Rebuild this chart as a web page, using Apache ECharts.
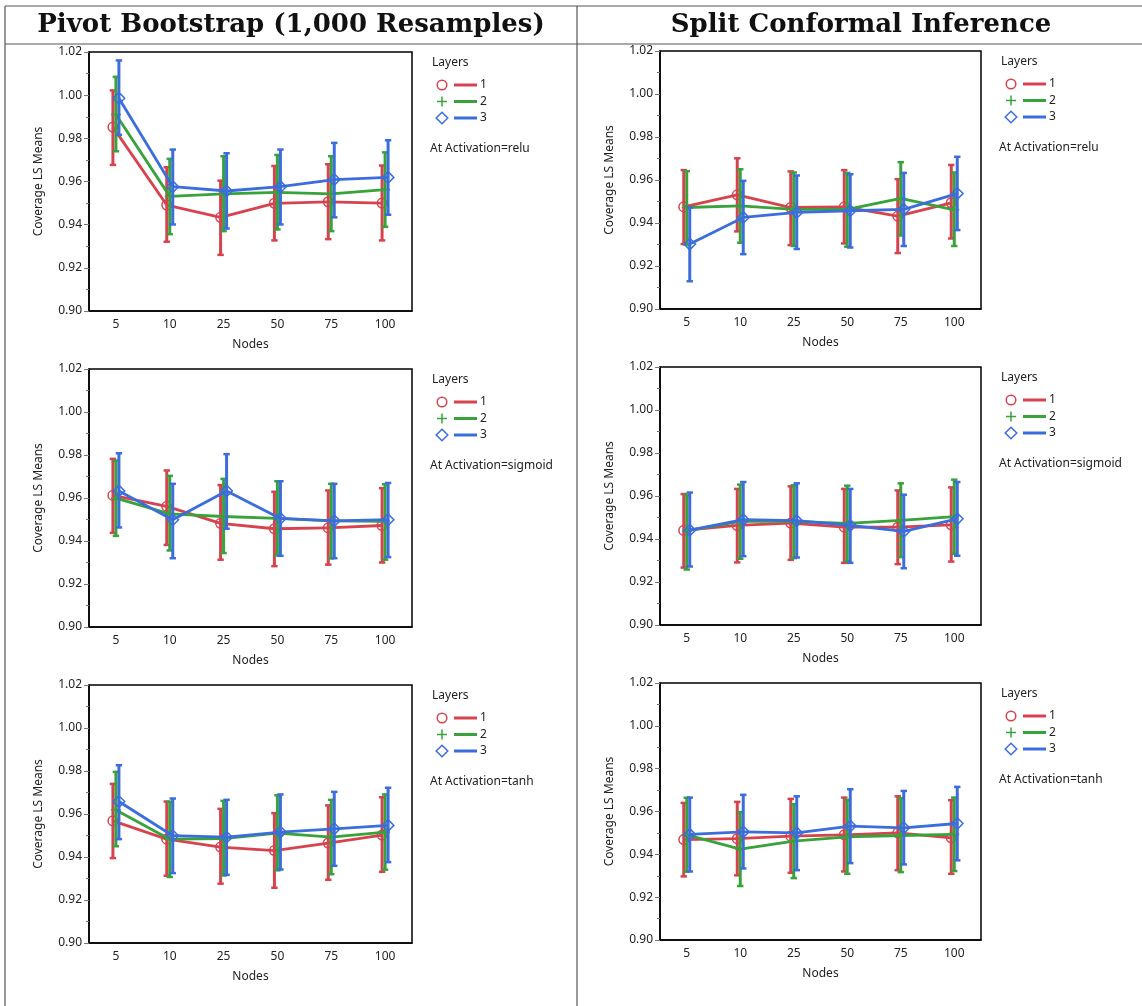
<!DOCTYPE html>
<html>
<head>
<meta charset="utf-8">
<script src="https://cdn.jsdelivr.net/npm/echarts@6/dist/echarts.min.js"></script>
<style>
html,body{margin:0;padding:0;background:#fff;}
#chart{width:1142px;height:1006px;}
</style>
</head>
<body>
<div id="chart"></div>
<script>
// ---------- DATA ----------
const nodes = ['5', '10', '25', '50', '75', '100'];
const layers = ['1', '2', '3'];
const columnTitles = ['Pivot Bootstrap (1,000 Resamples)', 'Split Conformal Inference'];
const activations = ['relu', 'sigmoid', 'tanh'];

// Pivot Bootstrap, relu  (rows = layers 1,2,3)
const pivotReluMean  = [[0.9852,0.9491,0.9434,0.9499,0.9506,0.9500],[0.9910,0.9531,0.9543,0.9550,0.9543,0.9562],[0.9986,0.9576,0.9556,0.9576,0.9609,0.9619]];
const pivotReluLower = [[0.9677,0.9321,0.9260,0.9327,0.9333,0.9327],[0.9740,0.9356,0.9370,0.9378,0.9370,0.9390],[0.9816,0.9401,0.9382,0.9401,0.9434,0.9446]];
const pivotReluUpper = [[1.0022,0.9666,0.9604,0.9672,0.9680,0.9674],[1.0085,0.9705,0.9717,0.9723,0.9717,0.9735],[1.0161,0.9748,0.9731,0.9748,0.9779,0.9791]];
// Pivot Bootstrap, sigmoid
const pivotSigmoidMean  = [[0.9612,0.9561,0.9482,0.9457,0.9461,0.9472],[0.9599,0.9526,0.9514,0.9505,0.9494,0.9491],[0.9633,0.9499,0.9633,0.9505,0.9494,0.9499]];
const pivotSigmoidLower = [[0.9438,0.9382,0.9313,0.9283,0.9290,0.9300],[0.9424,0.9356,0.9344,0.9333,0.9319,0.9313],[0.9463,0.9320,0.9457,0.9331,0.9320,0.9325]];
const pivotSigmoidUpper = [[0.9782,0.9728,0.9660,0.9629,0.9635,0.9646],[0.9774,0.9703,0.9689,0.9678,0.9666,0.9664],[0.9808,0.9666,0.9804,0.9678,0.9666,0.9670]];
// Pivot Bootstrap, tanh
const pivotTanhMean  = [[0.9568,0.9483,0.9446,0.9430,0.9465,0.9502],[0.9619,0.9483,0.9486,0.9511,0.9492,0.9516],[0.9658,0.9499,0.9492,0.9516,0.9531,0.9547]];
const pivotTanhLower = [[0.9395,0.9313,0.9276,0.9257,0.9294,0.9331],[0.9450,0.9307,0.9314,0.9338,0.9320,0.9341],[0.9483,0.9325,0.9317,0.9342,0.9359,0.9376]];
const pivotTanhUpper = [[0.9740,0.9658,0.9624,0.9604,0.9640,0.9678],[0.9796,0.9657,0.9661,0.9687,0.9666,0.9691],[0.9827,0.9672,0.9666,0.9691,0.9703,0.9722]];
// Split Conformal, relu
const splitReluMean  = [[0.9475,0.9531,0.9472,0.9475,0.9432,0.9494],[0.9472,0.9480,0.9463,0.9463,0.9514,0.9461],[0.9302,0.9426,0.9449,0.9457,0.9463,0.9537]];
const splitReluLower = [[0.9302,0.9361,0.9297,0.9305,0.9260,0.9328],[0.9299,0.9308,0.9293,0.9290,0.9342,0.9293],[0.9129,0.9255,0.9279,0.9286,0.9293,0.9367]];
const splitReluUpper = [[0.9646,0.9701,0.9640,0.9646,0.9604,0.9670],[0.9641,0.9650,0.9635,0.9633,0.9683,0.9635],[0.9472,0.9596,0.9621,0.9627,0.9633,0.9708]];
// Split Conformal, sigmoid
const splitSigmoidMean  = [[0.9440,0.9463,0.9474,0.9455,0.9455,0.9466],[0.9438,0.9482,0.9482,0.9473,0.9487,0.9504],[0.9441,0.9490,0.9485,0.9463,0.9435,0.9494]];
const splitSigmoidLower = [[0.9267,0.9291,0.9303,0.9289,0.9283,0.9295],[0.9258,0.9308,0.9311,0.9298,0.9316,0.9331],[0.9272,0.9320,0.9314,0.9289,0.9264,0.9322]];
const splitSigmoidUpper = [[0.9609,0.9633,0.9645,0.9633,0.9626,0.9640],[0.9603,0.9653,0.9650,0.9648,0.9659,0.9676],[0.9616,0.9665,0.9659,0.9633,0.9606,0.9665]];
// Split Conformal, tanh
const splitTanhMean  = [[0.9469,0.9473,0.9485,0.9491,0.9500,0.9477],[0.9491,0.9424,0.9462,0.9482,0.9488,0.9493],[0.9493,0.9505,0.9500,0.9532,0.9524,0.9544]];
const splitTanhLower = [[0.9297,0.9302,0.9314,0.9320,0.9326,0.9309],[0.9319,0.9252,0.9289,0.9309,0.9317,0.9322],[0.9320,0.9334,0.9326,0.9359,0.9353,0.9372]];
const splitTanhUpper = [[0.9640,0.9645,0.9659,0.9665,0.9671,0.9653],[0.9664,0.9597,0.9634,0.9654,0.9662,0.9665],[0.9665,0.9678,0.9671,0.9704,0.9696,0.9715]];

// ---------- STYLE / LAYOUT ----------
const colors = ['#d6434f', '#37a33a', '#3c6ddd'];
const markerTypes = ['circle', 'plus', 'diamond'];
const dodge = [-3, 0, 3];
const FONT = '"Noto Sans", "Open Sans", sans-serif';

const panels = [
  { mean: pivotReluMean, lo: pivotReluLower, hi: pivotReluUpper, act: activations[0], grid: {left: 89, top: 52, width: 323, height: 259} },
  { mean: pivotSigmoidMean, lo: pivotSigmoidLower, hi: pivotSigmoidUpper, act: activations[1], grid: {left: 89, top: 369, width: 323, height: 258} },
  { mean: pivotTanhMean, lo: pivotTanhLower, hi: pivotTanhUpper, act: activations[2], grid: {left: 89, top: 685, width: 323, height: 258} },
  { mean: splitReluMean, lo: splitReluLower, hi: splitReluUpper, act: activations[0], grid: {left: 660, top: 51, width: 321, height: 258} },
  { mean: splitSigmoidMean, lo: splitSigmoidLower, hi: splitSigmoidUpper, act: activations[1], grid: {left: 660, top: 367, width: 321, height: 258} },
  { mean: splitTanhMean, lo: splitTanhLower, hi: splitTanhUpper, act: activations[2], grid: {left: 660, top: 683, width: 321, height: 257} }
];

function markerShape(type, x, y, color) {
  const st = { stroke: color, lineWidth: 1.5, fill: null };
  if (type === 'circle') return { type: 'circle', shape: { cx: x, cy: y, r: 4.8 }, style: st };
  if (type === 'diamond') return { type: 'polygon', shape: { points: [[x, y - 5.8], [x + 5.8, y], [x, y + 5.8], [x - 5.8, y]] }, style: st };
  return { type: 'group', children: [
    { type: 'line', shape: { x1: x - 5, y1: y, x2: x + 5, y2: y }, style: { stroke: color, lineWidth: 1.5 } },
    { type: 'line', shape: { x1: x, y1: y - 5, x2: x, y2: y + 5 }, style: { stroke: color, lineWidth: 1.5 } }
  ]};
}

const grids = [], xAxes = [], yAxes = [], series = [], graphics = [];

panels.forEach((p, k) => {
  grids.push(Object.assign({ show: true, borderColor: '#000', borderWidth: 1.5, backgroundColor: '#fff' }, p.grid));
  xAxes.push({
    type: 'category', gridIndex: k, data: nodes, boundaryGap: true,
    axisLine: { show: true, lineStyle: { color: '#000', width: 1.5 } },
    axisTick: { show: false },
    axisLabel: { margin: 8, fontSize: 12, color: '#222', fontFamily: FONT },
    name: 'Nodes', nameLocation: 'middle', nameGap: 28,
    nameTextStyle: { fontSize: 12, color: '#222', fontFamily: FONT }
  });
  yAxes.push({
    type: 'value', gridIndex: k, min: 0.90, max: 1.02, interval: 0.02,
    axisLine: { show: true, lineStyle: { color: '#000', width: 1.5 } },
    axisTick: { show: true, length: 5, lineStyle: { color: '#777' } },
    minorTick: { show: true, splitNumber: 2, length: 3, lineStyle: { color: '#777' } },
    splitLine: { show: false },
    axisLabel: { margin: 7, fontSize: 12, color: '#222', fontFamily: FONT, formatter: v => v.toFixed(2) },
    name: 'Coverage LS Means', nameLocation: 'middle', nameGap: 44,
    nameTextStyle: { fontSize: 12, color: '#222', fontFamily: FONT }
  });

  layers.forEach((layer, j) => {
    const means = p.mean[j], los = p.lo[j], his = p.hi[j];
    const color = colors[j];
    const data = nodes.map((n, i) => [i, means[i], los[i], his[i]]);
    series.push({
      type: 'custom', name: layer, xAxisIndex: k, yAxisIndex: k,
      data: data, encode: { x: 0, y: [1, 2, 3] }, z: 2 + j,
      renderItem: function (params, api) {
        const i = api.value(0);
        const off = dodge[j];
        const pm = api.coord([i, api.value(1)]);
        const pl = api.coord([i, api.value(2)]);
        const ph = api.coord([i, api.value(3)]);
        const x = pm[0] + off;
        const children = [];
        children.push({ type: 'line', shape: { x1: x, y1: pl[1], x2: x, y2: ph[1] }, style: { stroke: color, lineWidth: 3 } });
        children.push({ type: 'line', shape: { x1: x - 3.2, y1: pl[1], x2: x + 3.2, y2: pl[1] }, style: { stroke: color, lineWidth: 2.5 } });
        children.push({ type: 'line', shape: { x1: x - 3.2, y1: ph[1], x2: x + 3.2, y2: ph[1] }, style: { stroke: color, lineWidth: 2.5 } });
        if (i < means.length - 1) {
          const pn = api.coord([i + 1, means[i + 1]]);
          children.push({ type: 'line', shape: { x1: x, y1: pm[1], x2: pn[0] + off, y2: pn[1] }, style: { stroke: color, lineWidth: 2.8 } });
        }
        children.push(markerShape(markerTypes[j], x, pm[1], color));
        return { type: 'group', children: children };
      }
    });
  });

  // legend block
  const g = p.grid;
  const bx = g.left + g.width + 20;
  const by = g.top;
  graphics.push({ type: 'text', x: bx, y: by + 11, style: { text: 'Layers', font: '12px ' + FONT, fill: '#222', textVerticalAlign: 'middle' } });
  layers.forEach((layer, j) => {
    const cy = by + 33 + j * 16.5;
    graphics.push(markerShape(markerTypes[j], bx + 10, cy, colors[j]));
    graphics.push({ type: 'line', shape: { x1: bx + 22, y1: cy, x2: bx + 45, y2: cy }, style: { stroke: colors[j], lineWidth: 3 } });
    graphics.push({ type: 'text', x: bx + 48, y: cy, style: { text: layer, font: '12px ' + FONT, fill: '#222', textVerticalAlign: 'middle' } });
  });
  graphics.push({ type: 'text', x: bx - 2, y: by + 97, style: { text: 'At Activation=' + p.act, font: '12px ' + FONT, fill: '#222', textVerticalAlign: 'middle' } });
});

// table frame and headers
const lineStyle = { stroke: '#555', lineWidth: 1.2 };
graphics.push({ type: 'line', shape: { x1: 5, y1: 6, x2: 1142, y2: 6 }, style: lineStyle });
graphics.push({ type: 'line', shape: { x1: 5, y1: 44, x2: 1142, y2: 44 }, style: lineStyle });
graphics.push({ type: 'line', shape: { x1: 5, y1: 6, x2: 5, y2: 1006 }, style: lineStyle });
graphics.push({ type: 'line', shape: { x1: 577, y1: 6, x2: 577, y2: 1006 }, style: lineStyle });
graphics.push({ type: 'text', x: 291, y: 25, style: { text: columnTitles[0], font: 'bold 26px "DejaVu Serif", serif', fill: '#111', textAlign: 'center', textVerticalAlign: 'middle' } });
graphics.push({ type: 'text', x: 861, y: 25, style: { text: columnTitles[1], font: 'bold 26px "DejaVu Serif", serif', fill: '#111', textAlign: 'center', textVerticalAlign: 'middle' } });

const chart = echarts.init(document.getElementById('chart'), null, { renderer: 'canvas' });
chart.setOption({
  animation: false,
  backgroundColor: '#fff',
  grid: grids,
  xAxis: xAxes,
  yAxis: yAxes,
  series: series,
  graphic: graphics
});
</script>
</body>
</html>
